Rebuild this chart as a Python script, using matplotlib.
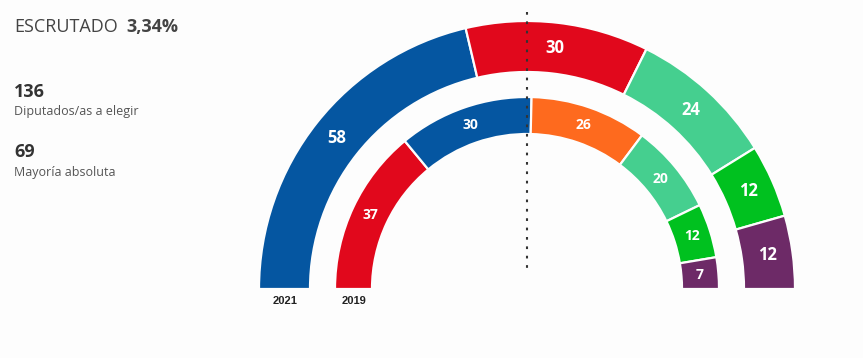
import matplotlib
matplotlib.use('Agg')
import matplotlib.pyplot as plt
from matplotlib.patches import Wedge
import numpy as np

# seats per party, left to right along each ring
parties_2021 = ['PP', 'PSOE', 'Más Madrid', 'Vox', 'Podemos']
seats_2021 = [58, 30, 24, 12, 12]
colors_2021 = ['#0556a1', '#e1081c', '#45cf8f', '#00c11f', '#6d2a67']

parties_2019 = ['PSOE', 'PP', 'Cs', 'Más Madrid', 'Vox', 'Podemos']
seats_2019 = [37, 30, 26, 20, 12, 7]
colors_2019 = ['#e1081c', '#0556a1', '#fe6a1e', '#45cf8f', '#00c11f', '#6d2a67']

escrutado = '3,34%'
total_seats = 136
majority = 69

W, H = 863, 358
BG = '#fdfdfd'
cx, cy = 527, H - 289


def draw_ring(seats, colors, r_out, r_in, fontsize):
    total = sum(seats)
    start = 0
    for s, c in zip(seats, colors):
        t2 = 180 - start / total * 180
        t1 = 180 - (start + s) / total * 180
        ax.add_patch(Wedge((cx, cy), r_out, t1, t2, width=r_out - r_in,
                           facecolor=c, edgecolor=BG, linewidth=1.6))
        mid = np.radians((t1 + t2) / 2)
        rm = (r_out + r_in) / 2
        ax.text(cx + rm * np.cos(mid), cy + rm * np.sin(mid), str(s),
                color='white', fontsize=fontsize, fontweight='bold',
                ha='center', va='center', family='Open Sans')
        start += s


fig = plt.figure(figsize=(W / 100, H / 100), dpi=100)
fig.patch.set_facecolor(BG)
ax = fig.add_axes([0, 0, 1, 1])
ax.set_xlim(0, W)
ax.set_ylim(0, H)
ax.set_facecolor(BG)
ax.axis('off')

draw_ring(seats_2021, colors_2021, 268, 217, 12)
draw_ring(seats_2019, colors_2019, 192, 155, 10)

# majority line
ax.plot([cx, cx], [H - 12, H - 268], color='#333333', lw=1.5,
        linestyle=(0, (1.3, 3.2)), zorder=5)

ax.text(285, H - 301, '2021', ha='center', va='center', fontsize=8,
        fontweight='bold', color='#222222', family='Liberation Sans')
ax.text(354, H - 301, '2019', ha='center', va='center', fontsize=8,
        fontweight='bold', color='#222222', family='Liberation Sans')

# left info block
ax.text(14, H - 32, 'ESCRUTADO', fontsize=13, color='#444444',
        family='Open Sans', va='baseline')
ax.text(126, H - 32, escrutado, fontsize=13, color='#444444',
        family='Open Sans', fontweight='bold', va='baseline')
ax.text(14, H - 97, str(total_seats), fontsize=13, color='#333333',
        family='Open Sans', fontweight='bold', va='baseline')
ax.text(14, H - 115, 'Diputados/as a elegir', fontsize=9, color='#555555',
        family='Open Sans', va='baseline')
ax.text(14, H - 157, str(majority), fontsize=13, color='#333333',
        family='Open Sans', fontweight='bold', va='baseline')
ax.text(14, H - 176, 'Mayoría absoluta', fontsize=9, color='#555555',
        family='Open Sans', va='baseline')

plt.savefig('out.png', dpi=100, facecolor=BG)
